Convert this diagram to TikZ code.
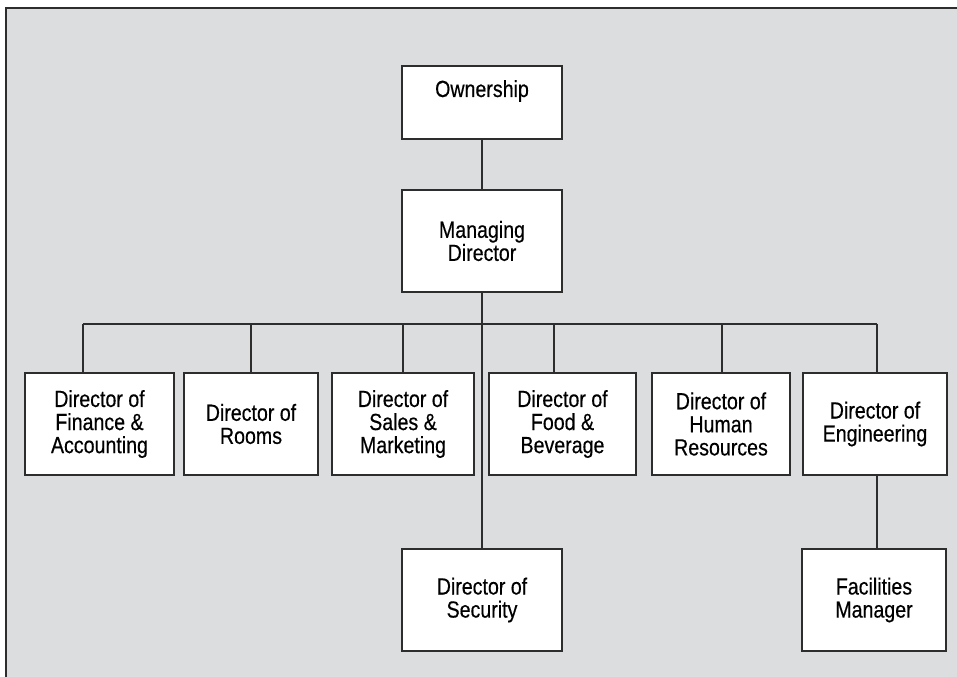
\documentclass[tikz,border=0pt]{standalone}
\usepackage{fontspec}
\setmainfont{Liberation Sans}[FakeStretch=0.84,FakeBold=0.4]
\usetikzlibrary{positioning}
\definecolor{panel}{RGB}{220,221,223}
\definecolor{ink}{RGB}{45,45,45}

\begin{document}
\begin{tikzpicture}[x=0.75pt,y=-0.75pt, line width=1.1pt, draw=ink,
                   box/.style={draw=ink, fill=white, line width=1.1pt, align=center, inner sep=0pt,
                               minimum height=76.5pt, font=\fontsize{17.5}{17.3}\selectfont},
                   boxw/.style={minimum width=#1*0.75pt}]
\useasboundingbox (0,0) rectangle (957,677);
\draw[line width=2pt, fill=panel] (6,8) rectangle (990,720);

\node[box, boxw=160, minimum height=54.75pt] (own) at (482,102.5) {Ownership\\\phantom{g}};
\node[box, boxw=160] (md) at (482,241) {Managing\\Director};

\node[box, boxw=149] (fin)   at (99.5,424)  {Director of\\Finance \&\\Accounting};
\node[box, boxw=134] (rooms) at (251,424)   {Director of\\Rooms};
\node[box, boxw=142] (sales) at (403,424)   {Director of\\Sales \&\\Marketing};
\node[box, boxw=147] (food)  at (562.5,424) {Director of\\Food \&\\Beverage};
\node[box, boxw=138] (hr)    at (721,424)   {Director of\\Human\\Resources};
\node[box, boxw=144] (eng)   at (875,424)   {Director of\\Engineering};

\node[box, boxw=160] (sec) at (482,600) {Director of\\Security};
\node[box, boxw=144] (fac) at (874,600) {Facilities\\Manager};

\draw (own) -- (md);
\draw (md) -- (sec);
\draw (83,324) coordinate (dfin) -- (877,324) coordinate (deng);
\foreach \n/\x in {fin/83,rooms/251,sales/403,food/554,hr/722,eng/877}{
  \coordinate (d\n) at (\x,324);
  \draw (d\n) -- (d\n |- \n.north);
}
\draw (deng |- eng.south) -- (deng |- fac.north);
\end{tikzpicture}
\end{document}
